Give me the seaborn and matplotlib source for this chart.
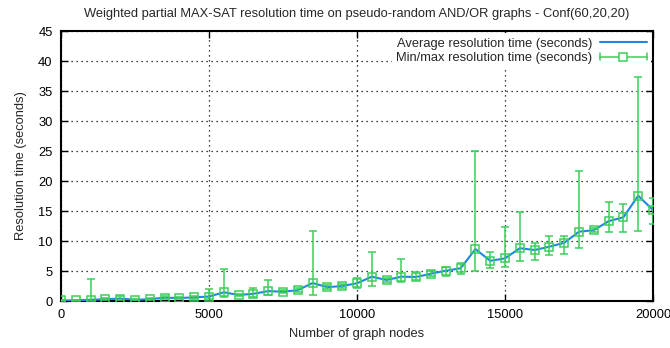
import matplotlib
matplotlib.use("Agg")
import matplotlib.pyplot as plt
from matplotlib.lines import Line2D
from matplotlib.legend_handler import HandlerBase
import seaborn as sns
import pandas as pd
import numpy as np

# Graph sizes (number of nodes) and measured resolution times in seconds
nodes = [0, 500, 1000, 1500, 2000, 2500, 3000, 3500, 4000, 4500,
         5000, 5500, 6000, 6500, 7000, 7500, 8000, 8500, 9000, 9500,
         10000, 10500, 11000, 11500, 12000, 12500, 13000, 13500, 14000, 14500,
         15000, 15500, 16000, 16500, 17000, 17500, 18000, 18500, 19000, 19500,
         20000]
avg_time = [0.1, 0.1, 0.2, 0.3, 0.4, 0.2, 0.3, 0.55, 0.5, 0.6,
            0.75, 1.45, 1.0, 1.2, 1.65, 1.55, 1.8, 3.0, 2.3, 2.5,
            2.95, 4.05, 3.5, 4.05, 4.0, 4.55, 5.05, 5.45, 8.65, 6.7,
            7.1, 8.8, 8.5, 9.05, 9.7, 11.55, 11.8, 13.3, 13.95, 17.55,
            15.15]
min_time = [0.0, 0.0, 0.0, 0.1, 0.1, 0.1, 0.2, 0.3, 0.3, 0.4,
            0.3, 0.6, 0.8, 0.7, 1.0, 1.3, 1.5, 1.0, 2.0, 2.2,
            2.1, 2.55, 3.2, 3.1, 3.5, 4.1, 4.2, 4.5, 5.0, 5.45,
            5.7, 6.7, 6.9, 7.7, 7.8, 8.8, 11.5, 11.45, 11.55, 11.7,
            12.8]
max_time = [0.2, 0.2, 3.6, 0.5, 0.8, 0.4, 0.5, 0.8, 0.7, 0.8,
            2.0, 5.4, 1.2, 2.2, 3.55, 1.8, 2.1, 11.7, 2.6, 2.8,
            3.8, 8.1, 3.8, 6.95, 4.9, 5.0, 5.7, 6.3, 25.0, 8.2,
            12.4, 14.8, 9.7, 10.8, 10.8, 21.7, 12.1, 16.55, 16.1, 37.3,
            17.2]

df = pd.DataFrame({"nodes": nodes, "avg": avg_time,
                   "lo": min_time, "hi": max_time})

BLUE = "#1f88e5"
GREEN = "#3ccf5a"
FS = 9.3


class CappedBarHandler(HandlerBase):
    """Key sample drawn as |--[]--| : horizontal bar, end caps, square."""

    def create_artists(self, legend, orig_handle, xdescent, ydescent,
                       width, height, fontsize, trans):
        y = height / 2 - ydescent
        x0, x1 = -xdescent, width - xdescent
        cap = height * 0.35
        kw = dict(color=GREEN, lw=1.1)
        arts = [
            Line2D([x0, x1], [y, y], **kw),
            Line2D([x0, x0], [y - cap, y + cap], **kw),
            Line2D([x1, x1], [y - cap, y + cap], **kw),
            Line2D([(x0 + x1) / 2], [y], ls="none", marker="s", ms=5.5,
                   mfc="white", mec=GREEN, mew=1.1),
        ]
        for a in arts:
            a.set_transform(trans)
        return arts


sns.set_style("ticks")
plt.rcParams["font.family"] = ["Liberation Sans", "DejaVu Sans"]

fig = plt.figure(figsize=(6.7, 3.48), dpi=100)
ax = fig.add_axes([61 / 670, 1 - 301 / 348, 592 / 670, 270 / 348])

sns.lineplot(data=df, x="nodes", y="avg", ax=ax, color=BLUE, linewidth=1.5,
             legend=False, zorder=3)

yerr = np.vstack([df["avg"] - df["lo"], df["hi"] - df["avg"]])
ax.errorbar(df["nodes"], df["avg"], yerr=yerr, fmt="s", mfc="none",
            mec=GREEN, mew=1.1, ms=5.5, ecolor=GREEN, elinewidth=1.1,
            capsize=3, capthick=1.1, zorder=4)

ax.set_xlim(0, 20000)
ax.set_ylim(0, 45)
ax.set_xticks(range(0, 20001, 5000))
ax.set_yticks(range(0, 46, 5))
ax.grid(True, color="black", linestyle=(0, (1, 3)), linewidth=0.9)
ax.set_axisbelow(True)
ax.tick_params(direction="in", top=True, right=True, length=5,
               width=1, labelsize=FS, colors="black", pad=6)
for s in ax.spines.values():
    s.set_linewidth(1.5)
    s.set_color("black")

ax.set_title("Weighted partial MAX-SAT resolution time on pseudo-random "
             "AND/OR graphs - Conf(60,20,20)", fontsize=FS, pad=10)
ax.set_xlabel("Number of graph nodes", fontsize=FS, labelpad=5)
ax.set_ylabel("Resolution time (seconds)", fontsize=FS, labelpad=8)

avg_handle = Line2D([], [], color=BLUE, lw=1.5)
bar_handle = Line2D([], [], color=GREEN)
leg = ax.legend([avg_handle, bar_handle],
                ["Average resolution time (seconds)",
                 "Min/max resolution time (seconds)"],
                handler_map={bar_handle: CappedBarHandler()},
                loc="upper right", frameon=True, fancybox=False,
                facecolor="white", edgecolor="none", framealpha=1,
                fontsize=FS, markerfirst=False, handlelength=3.6,
                borderpad=0.35, labelspacing=0.2,
                borderaxespad=0.15, handletextpad=0.6)
for t in leg.get_texts():
    t.set_ha("right")
leg.set_zorder(5)

fig.savefig("out.png", dpi=100)
